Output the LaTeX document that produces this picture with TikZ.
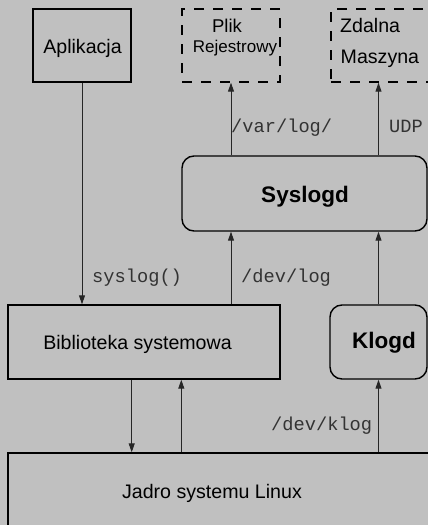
\documentclass[tikz,border=0pt]{standalone}
\usepackage{fontspec}
\setmainfont{Liberation Sans}
\setmonofont{Liberation Mono}
\usetikzlibrary{arrows.meta}
\definecolor{bg}{HTML}{C0C0C0}
\tikzset{
  box/.style={draw=black, line width=1.4pt, minimum width=#1, inner sep=0pt},
  solidbox/.style={box=#1},
  dashbox/.style={box=#1, dash pattern=on 10pt off 9pt},
  roundbox/.style={box=#1, rounded corners=12pt},
  conn/.style={draw=black!85, line width=1pt, -{Triangle[width=6pt,length=9pt]}},
  txt/.style={anchor=base, inner sep=0pt, font=\fontsize{19.6}{23}\selectfont},
  btxt/.style={anchor=base, inner sep=0pt, font=\fontsize{22.5}{26}\selectfont\bfseries},
  mtxt/.style={anchor=base west, inner sep=0pt, text=black!80, font=\fontsize{18.7}{22}\ttfamily},
}
\begin{document}
\begin{tikzpicture}[x=1pt, y=-1pt]
\useasboundingbox (0,0) rectangle (428,525);
\fill[bg] (0,0) rectangle (428,525);
\clip (0,0) rectangle (428,525);
% boxes
\node[solidbox=98pt, minimum height=73pt] (app) at (82,45.5) {};
\node[dashbox=98pt, minimum height=73pt] (plik) at (231,45.5) {};
\node[dashbox=114pt, minimum height=73pt] (zdal) at (388,45.5) {};
\node[roundbox=245pt, minimum height=75pt] (sysl) at (304.5,193.5) {};
\node[solidbox=272pt, minimum height=74pt] (bibl) at (144,342) {};
\node[roundbox=97pt, minimum height=74pt] (klog) at (378.5,342) {};
\node[solidbox=437pt, minimum height=87pt] (jadr) at (226.5,496.5) {};
% texts
\node[txt] (tapp) at (82.5,53) {Aplikacja};
\node[txt, font=\fontsize{18.5}{22}\selectfont] (tplik) at (227,32) {Plik};
\node[txt, font=\fontsize{17}{20}\selectfont] (trej) at (235,52) {Rejestrowy};
\node[txt, anchor=base west] (tzd) at (340,32) {Zdalna};
\node[txt, anchor=base west] (tma) at (340.5,63) {Maszyna};
\node[btxt] (tsys) at (305,202) {Syslogd};
\node[txt] (tbib) at (137.5,349) {Biblioteka systemowa};
\node[btxt] (tklo) at (384,348) {Klogd};
\node[txt] (tjad) at (212,498) {Jadro systemu Linux};
% connectors
\draw[conn] (app.south) -- (app.south |- bibl.north);
\draw[conn] (plik.south |- sysl.north) -- (plik.south);
\draw[conn] (sysl.north -| klog.north) -- (zdal.south -| klog.north);
\draw[conn] (bibl.north -| plik.south) -- (sysl.south -| plik.south);
\draw[conn] (klog.north) -- (klog.north |- sysl.south);
\draw[conn] (bibl.south -| app.east) -- (jadr.north -| app.east);
\draw[conn] (jadr.north -| plik.west) -- (bibl.south -| plik.west);
\draw[conn] (jadr.north -| klog.south) -- (klog.south);
% connector labels
\node[mtxt] (l1) at (231,132) {/var/log/};
\node[mtxt] (l2) at (389,132) {UDP};
\node[mtxt] (l3) at (92,282) {syslog()};
\node[mtxt] (l4) at (241,282) {/dev/log};
\node[mtxt] (l5) at (271,430) {/dev/klog};
\end{tikzpicture}
\end{document}
